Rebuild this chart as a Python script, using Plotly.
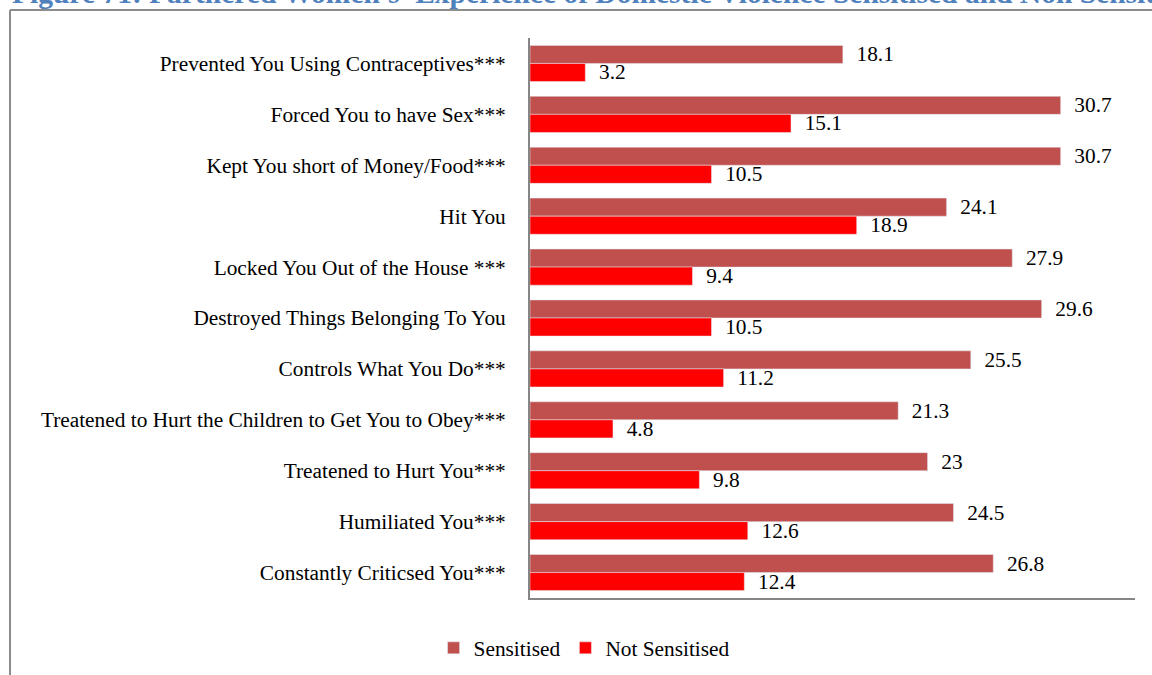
import plotly.graph_objects as go

categories = [
    "Prevented You Using Contraceptives***",
    "Forced You to have Sex***",
    "Kept You short of Money/Food***",
    "Hit You",
    "Locked You Out of the House ***",
    "Destroyed Things Belonging To You",
    "Controls What You Do***",
    "Treatened to Hurt the Children to Get You to Obey***",
    "Treatened to Hurt You***",
    "Humiliated You***",
    "Constantly Criticsed You***",
]
sensitised = [18.1, 30.7, 30.7, 24.1, 27.9, 29.6, 25.5, 21.3, 23, 24.5, 26.8]
not_sensitised = [3.2, 15.1, 10.5, 18.9, 9.4, 10.5, 11.2, 4.8, 9.8, 12.6, 12.4]
series_names = ["Sensitised", "Not Sensitised"]
title_text = "Figure 71: Partnered Women's' Experience of Domestic Violence Sensitised and Non Sensitised"

FONT = "Liberation Serif, Times New Roman, serif"
FS = 21.33
PAD = "\u00a0\u00a0"

fig = go.Figure()
fig.add_trace(go.Bar(
    y=categories, x=sensitised, name=series_names[0], orientation="h",
    marker=dict(color="#C0504D"),
    texttemplate=PAD + "%{x}", textposition="outside", cliponaxis=False,
    constraintext="none",
    textfont=dict(family=FONT, size=FS, color="#000000"),
))
fig.add_trace(go.Bar(
    y=categories, x=not_sensitised, name=series_names[1], orientation="h",
    marker=dict(color="#FF0000"),
    texttemplate=PAD + "%{x}", textposition="outside", cliponaxis=False,
    constraintext="none",
    textfont=dict(family=FONT, size=FS, color="#000000"),
))

fig.update_layout(
    width=1152, height=675,
    margin=dict(l=530, r=17, t=38, b=77, autoexpand=False),
    barmode="group", bargap=0.29, bargroupgap=0,
    paper_bgcolor="white", plot_bgcolor="white",
    font=dict(family=FONT, size=FS, color="#000000"),
    hovermode=False,
    legend=dict(orientation="h", xref="container", x=0.507, xanchor="center",
                yref="container", y=0.04, yanchor="middle",
                font=dict(family=FONT, size=FS), itemwidth=30, traceorder="normal"),
    xaxis=dict(range=[0, 35], showgrid=False, zeroline=False, showticklabels=False,
               showline=True, linecolor="#868686", linewidth=2, ticks="", automargin=False),
    yaxis=dict(autorange="reversed", showgrid=False, zeroline=False,
               showline=True, linecolor="#868686", linewidth=2, ticks="",
               ticklabelstandoff=18, tickfont=dict(family=FONT, size=FS), automargin=False),
)

# outer frame (left and top)
fig.add_shape(type="line", xref="paper", yref="paper",
              x0=-0.8595, x1=-0.8595, y0=1.0500, y1=-0.2,
              line=dict(color="#8c8c8c", width=2))
fig.add_shape(type="line", xref="paper", yref="paper",
              x0=-0.8595, x1=1.05, y0=1.0500, y1=1.0500,
              line=dict(color="#8c8c8c", width=2))

# clipped title at very top
fig.add_annotation(text="<b>" + title_text + "</b>", xref="paper", yref="paper",
                   x=-0.8595, xanchor="left", y=1.049, yanchor="bottom", showarrow=False,
                   font=dict(family=FONT, size=29.5, color="#4F81BD"))

fig.write_html("out.html", config={"displayModeBar": False},
               post_script="document.body.style.margin='0';")
